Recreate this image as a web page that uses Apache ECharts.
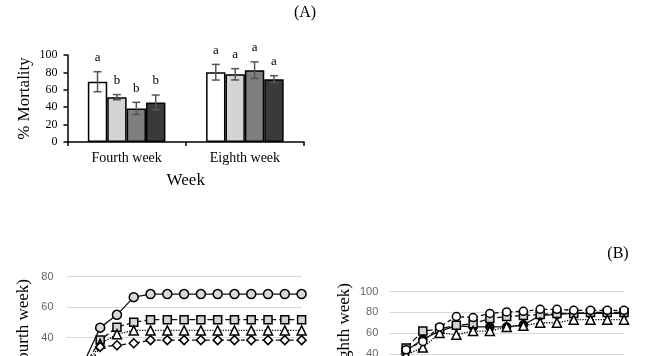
<!DOCTYPE html>
<html>
<head>
<meta charset="utf-8">
<script src="https://cdn.jsdelivr.net/npm/echarts@6/dist/echarts.min.js"></script>
<style>html,body{margin:0;padding:0;background:#fff;}#c{width:650px;height:356px;}</style>
</head>
<body>
<div id="c"></div>
<script>
// ---- Panel A data ----
var weeks = ['Fourth week', 'Eighth week'];
var treat1 = [69.3, 80.2];
var treat2 = [51.5, 77.8];
var treat3 = [38.6, 82.6];
var treat4 = [45.5, 72.2];
var err1 = [11.5, 9];
var err2 = [3, 6.5];
var err3 = [7, 9.5];
var err4 = [8.5, 4];
var letters1 = ['a', 'a'];
var letters2 = ['b', 'a'];
var letters3 = ['b', 'a'];
var letters4 = ['b', 'a'];
var barTicks = [0, 20, 40, 60, 80, 100];

// ---- Panel B data (15 observation days) ----
var days = ['1','2','3','4','5','6','7','8','9','10','11','12','13','14','15'];
// Fourth week
var w4Circle   = [0, 23, 46.6, 55, 66.6, 68.6, 68.6, 68.6, 68.6, 68.6, 68.6, 68.6, 68.6, 68.6, 68.6];
var w4Square   = [0, 20, 38.5, 46.8, 50.2, 51.8, 51.8, 51.8, 51.8, 51.8, 51.8, 51.8, 51.8, 51.8, 51.8];
var w4Triangle = [0, 18, 36, 42.3, 44.8, 44.8, 44.8, 44.8, 44.8, 44.8, 44.8, 44.8, 44.8, 44.8, 44.8];
var w4Diamond  = [0, 15, 34, 35, 36.4, 38.4, 38.4, 38.4, 38.4, 38.4, 38.4, 38.4, 38.4, 38.4, 38.4];
// Eighth week
var w8Circle   = [22, 43, 54, 62, 67, 66, 66, 66, 68, 77, 78, 79, 79, 79, 79];
var w8Square   = [26, 45.5, 62, 64, 67.5, 69, 74, 76, 77, 78, 79, 79, 80, 80, 80];
var w8Triangle = [20, 39, 46, 60, 58.5, 62, 62, 66, 67, 70, 70, 73, 73, 73, 73];
var w8Diamond  = [24, 44, 52, 66, 76, 75, 79, 80.5, 81, 83, 83, 82, 82, 82, 82];

var SERIF = '"Liberation Serif", "Times New Roman", serif';
var SANS = '"Liberation Sans", Arial, sans-serif';
var BAR_W = 19.4;

var barSeriesData = [treat1, treat2, treat3, treat4];
var errSeriesData = [err1, err2, err3, err4];
var letterData = [letters1, letters2, letters3, letters4];
var barColors = ['#ffffff', '#d4d4d4', '#7e7e7e', '#3a3a3a'];

var errItems = [];
var errLetters = [];
for (var s = 0; s < 4; s++) {
  for (var c = 0; c < weeks.length; c++) {
    errItems.push([c, s, barSeriesData[s][c], errSeriesData[s][c]]);
    errLetters.push(letterData[s][c]);
  }
}

var series = [];
for (var i = 0; i < 4; i++) {
  series.push({
    type: 'bar', xAxisIndex: 0, yAxisIndex: 0,
    data: barSeriesData[i], barWidth: BAR_W, barGap: '0%',
    itemStyle: { color: barColors[i], borderColor: '#000', borderWidth: 1.5 },
    animation: false, silent: true
  });
}
series.push({
  type: 'custom', xAxisIndex: 0, yAxisIndex: 0,
  data: errItems, encode: { x: 0, y: 2 }, animation: false, silent: true, z: 5,
  renderItem: function (params, api) {
    var cat = api.value(0), si = api.value(1), m = api.value(2), e = api.value(3);
    var base = api.coord([cat, m]);
    var x = base[0] + (si - 1.5) * BAR_W;
    var top = api.coord([cat, m + e])[1];
    var bot = api.coord([cat, m - e])[1];
    var st = { stroke: '#555', lineWidth: 1.5 };
    return {
      type: 'group',
      children: [
        { type: 'line', shape: { x1: x, y1: top, x2: x, y2: bot }, style: st },
        { type: 'line', shape: { x1: x - 4, y1: top, x2: x + 4, y2: top }, style: st },
        { type: 'line', shape: { x1: x - 4, y1: bot, x2: x + 4, y2: bot }, style: st },
        { type: 'text', x: x, y: top - 14,
          style: { text: errLetters[params.dataIndex], font: '13px ' + SERIF, fill: '#000',
                   textAlign: 'center', textVerticalAlign: 'middle' } }
      ]
    };
  }
});

function lineSeries(xi, data, symbol, size, fill, ltype) {
  return {
    type: 'line', xAxisIndex: xi, yAxisIndex: xi, data: data,
    symbol: symbol, symbolSize: size, showAllSymbol: true,
    lineStyle: { color: '#111', width: 1.3, type: ltype },
    itemStyle: { color: fill, borderColor: '#000', borderWidth: 1.5 },
    animation: false, silent: true
  };
}
series.push(lineSeries(1, w4Circle, 'circle', 9, '#d9d9d9', 'solid'));
series.push(lineSeries(1, w4Square, 'rect', 8, '#d4d4d4', [6, 3]));
series.push(lineSeries(1, w4Triangle, 'triangle', 9, '#ffffff', 'dotted'));
series.push(lineSeries(1, w4Diamond, 'diamond', 9, '#ffffff', [4, 3]));
series.push(lineSeries(2, w8Circle, 'circle', 8, '#111111', 'solid'));
series.push(lineSeries(2, w8Square, 'rect', 8, '#d4d4d4', [6, 3]));
series.push(lineSeries(2, w8Triangle, 'triangle', 9, '#ffffff', 'dotted'));
series.push(lineSeries(2, w8Diamond, 'circle', 8, '#ffffff', [4, 3]));

function lineY(idx, max, margin) {
  return {
    type: 'value', gridIndex: idx, min: 0, max: max, interval: 20,
    axisLine: { show: false }, axisTick: { show: false },
    axisLabel: { color: '#666', fontFamily: SANS, fontSize: 11, margin: margin },
    splitLine: { show: true, lineStyle: { color: '#d9d9d9', width: 1 } }
  };
}
function lineX(idx) {
  return {
    type: 'category', gridIndex: idx, data: days, boundaryGap: false,
    axisLine: { show: true, lineStyle: { color: '#d9d9d9' } }, axisTick: { show: false },
    axisLabel: { color: '#666', fontFamily: SANS, fontSize: 11 },
    splitLine: { show: false }
  };
}

var option = {
  backgroundColor: '#fff',
  animation: false,
  grid: [
    { left: 67.5, top: 55, width: 236.5, height: 87, containLabel: false, outerBoundsMode: 'none' },
    { left: 66.6, top: 276.7, width: 235, height: 122, containLabel: false, outerBoundsMode: 'none' },
    { left: 389.3, top: 291.7, width: 234.7, height: 103.5, containLabel: false, outerBoundsMode: 'none' }
  ],
  xAxis: [
    {
      type: 'category', gridIndex: 0, data: weeks,
      axisLine: { show: true, lineStyle: { color: '#000', width: 1.5 } },
      axisTick: { show: true, length: 4, lineStyle: { color: '#000', width: 1.5 } },
      axisLabel: { color: '#000', fontFamily: SERIF, fontSize: 14, margin: 9 },
      name: 'Week', nameLocation: 'middle', nameGap: 30,
      nameTextStyle: { color: '#000', fontFamily: SERIF, fontSize: 17 }
    },
    lineX(1), lineX(2)
  ],
  yAxis: [
    {
      type: 'value', gridIndex: 0, min: 0, max: 100, interval: 20,
      axisLine: { show: true, lineStyle: { color: '#000', width: 1.5 } },
      axisTick: { show: true, length: 4, lineStyle: { color: '#000', width: 1.5 } },
      axisLabel: { color: '#000', fontFamily: SERIF, fontSize: 12, margin: 10,
                   formatter: function (v) { return barTicks.indexOf(v) >= 0 ? String(v) : ''; } },
      splitLine: { show: false },
      name: '% Mortality', nameLocation: 'middle', nameGap: 34, nameRotate: 90,
      nameTextStyle: { color: '#000', fontFamily: SERIF, fontSize: 17 }
    },
    lineY(1, 80, 13), lineY(2, 100, 11)
  ],
  graphic: [
    { type: 'text', x: 305, y: 13, silent: true,
      style: { text: '(A)', font: '16px ' + SERIF, fill: '#000', textAlign: 'center', textVerticalAlign: 'middle' } },
    { type: 'text', x: 618, y: 254, silent: true,
      style: { text: '(B)', font: '16px ' + SERIF, fill: '#000', textAlign: 'center', textVerticalAlign: 'middle' } },
    { type: 'text', x: 24, y: 279, rotation: Math.PI / 2, silent: true,
      style: { text: '% Mortality (Fourth week)', font: '17px ' + SERIF, fill: '#000', textAlign: 'right', textVerticalAlign: 'middle' } },
    { type: 'text', x: 345, y: 283, rotation: Math.PI / 2, silent: true,
      style: { text: '% Mortality (Eighth week)', font: '17px ' + SERIF, fill: '#000', textAlign: 'right', textVerticalAlign: 'middle' } }
  ],
  series: series
};

var chart = echarts.init(document.getElementById('c'), null, { renderer: 'canvas' });
chart.setOption(option);
</script>
</body>
</html>
